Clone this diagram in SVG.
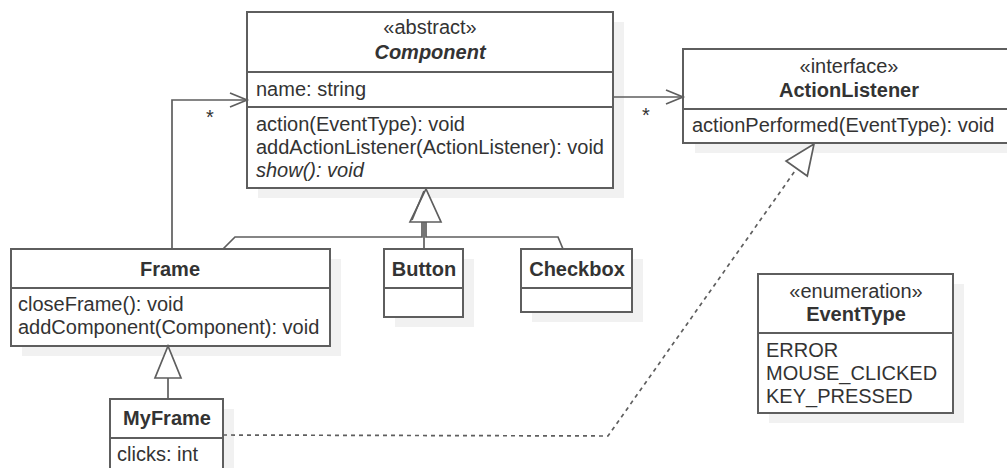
<svg xmlns="http://www.w3.org/2000/svg" width="1007" height="468" viewBox="0 0 1007 468">
<style>
text{font-family:"Liberation Sans",Arial,sans-serif;font-size:20px;fill:#333}
.c{text-anchor:middle}
.b{font-weight:bold}
.i{font-style:italic}
.box{fill:#fff;stroke:#5e5e5e;stroke-width:2}
.sh{fill:#f1f1f1}
.ln{fill:none;stroke:#5e5e5e;stroke-width:2}
.edge{fill:none;stroke:#5e5e5e;stroke-width:1.7}
.dash{fill:none;stroke:#5e5e5e;stroke-width:1.7;stroke-dasharray:4 4}
.tri{fill:#fff;stroke:#5e5e5e;stroke-width:1.7}
</style>
<rect width="1007" height="468" fill="#fff"/>

<g id="Component">
<rect class="sh" x="258" y="22" width="366" height="176"/>
<rect class="box" x="247" y="12" width="366" height="176"/>
<line class="ln" x1="247" y1="72" x2="613" y2="72"/>
<line class="ln" x1="247" y1="107" x2="613" y2="107"/>
<text class="c" x="430" y="34">«abstract»</text>
<text class="c b i" x="430" y="59">Component</text>
<text x="256" y="96">name: string</text>
<text x="256" y="131">action(EventType): void</text>
<text x="256" y="154">addActionListener(ActionListener): void</text>
<text class="i" x="256" y="177">show(): void</text>
</g>

<g id="ActionListener">
<rect class="sh" x="695" y="59" width="330" height="94"/>
<rect class="box" x="683" y="49" width="332" height="94"/>
<line class="ln" x1="683" y1="109" x2="1015" y2="109"/>
<text class="c" x="849" y="73">«interface»</text>
<text class="c b" x="849" y="97">ActionListener</text>
<text x="692" y="132">actionPerformed(EventType): void</text>
</g>

<g id="Frame">
<rect class="sh" x="22" y="259" width="319" height="97"/>
<rect class="box" x="11" y="249" width="319" height="97"/>
<line class="ln" x1="11" y1="288" x2="330" y2="288"/>
<text class="c b" x="170" y="276">Frame</text>
<text x="18" y="311">closeFrame(): void</text>
<text x="18" y="334">addComponent(Component): void</text>
</g>

<g id="Button">
<rect class="sh" x="395" y="259" width="79" height="68"/>
<rect class="box" x="384" y="249" width="79" height="68"/>
<line class="ln" x1="384" y1="288" x2="463" y2="288"/>
<text class="c b" x="424" y="276">Button</text>
</g>

<g id="Checkbox">
<rect class="sh" x="532" y="259" width="111" height="63"/>
<rect class="box" x="521" y="249" width="111" height="63"/>
<line class="ln" x1="521" y1="288" x2="632" y2="288"/>
<text class="c b" x="577" y="276">Checkbox</text>
</g>

<g id="MyFrame">
<rect class="sh" x="121" y="409" width="113" height="70"/>
<rect class="box" x="110" y="399" width="113" height="80"/>
<line class="ln" x1="110" y1="438" x2="223" y2="438"/>
<text class="c b" x="167" y="425">MyFrame</text>
<text x="117" y="461">clicks: int</text>
</g>

<g id="EventType">
<rect class="sh" x="769" y="284" width="195" height="139"/>
<rect class="box" x="758" y="274" width="195" height="139"/>
<line class="ln" x1="758" y1="333" x2="953" y2="333"/>
<text class="c" x="856" y="298">«enumeration»</text>
<text class="c b" x="856" y="321">EventType</text>
<text x="766" y="357">ERROR</text>
<text x="766" y="380">MOUSE_CLICKED</text>
<text x="766" y="403">KEY_PRESSED</text>
</g>

<g id="connectors">
<path class="edge" d="M172 249 V100 H246"/>
<path class="edge" d="M230 93 L247 100 L230 107"/>
<text x="206" y="124">*</text>
<path class="edge" d="M613 97 H682"/>
<path class="edge" d="M666 90 L683 97 L666 104"/>
<text x="642" y="122">*</text>
<path class="edge" d="M223 249 L235 237 H422 V222"/>
<path class="edge" d="M424 249 V222"/>
<path class="edge" d="M563 249 L558 237 H426 V222"/>
<path class="tri" d="M426 189 L410 222 L441 222 Z"/>
<path class="edge" d="M424 191 L412 220"/>
<path class="edge" d="M168 399 V378"/>
<path class="tri" d="M168 346 L155 378 L181 378 Z"/>
<path class="dash" d="M223 435 L608 436 L796.7 168.5"/>
<path class="tri" d="M814 144 L807.3 176 L786.1 161 Z"/>
</g>
</svg>
